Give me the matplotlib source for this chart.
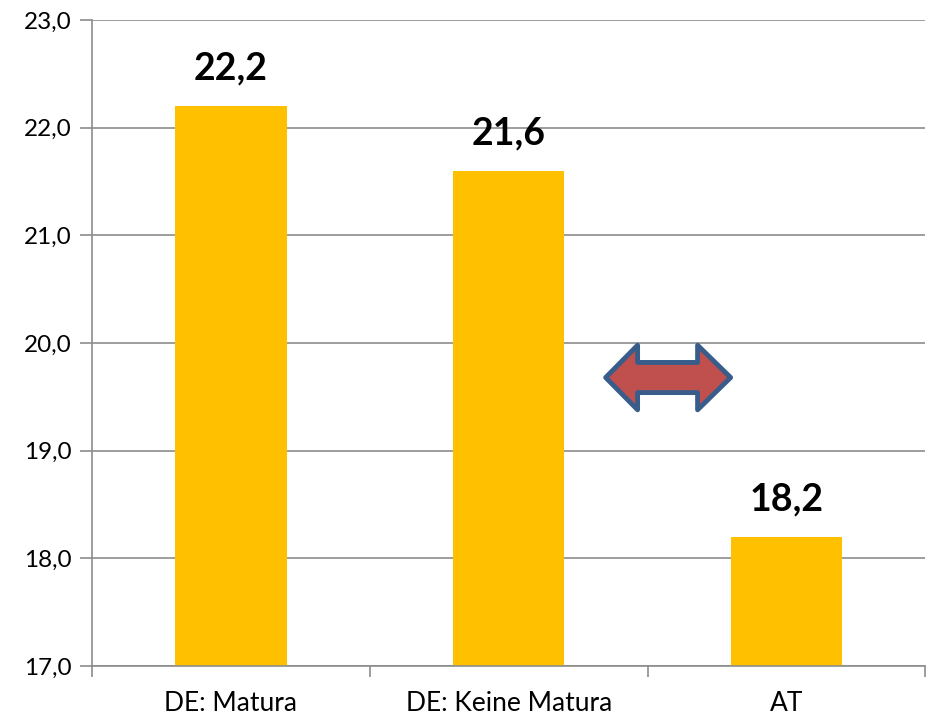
import matplotlib
matplotlib.use("Agg")
import matplotlib.pyplot as plt
from matplotlib.patches import Polygon
import numpy as np

categories = ["DE: Matura", "DE: Keine Matura", "AT"]
values = [22.2, 21.6, 18.2]
y_ticks = [17.0, 18.0, 19.0, 20.0, 21.0, 22.0, 23.0]

plt.rcParams['font.family'] = ['Lato', 'DejaVu Sans']

fig = plt.figure(figsize=(9.3, 7.2), dpi=100)
ax = fig.add_axes([0.099, 0.075, 0.896, 0.897])

x = np.arange(len(categories))
ax.bar(x, values, width=0.4, color='#FFC000', zorder=2, bottom=0)

for xi, v in zip(x, values):
    ax.text(xi, v + 0.19, f"{v:.1f}".replace('.', ','), ha='center', va='bottom',
            fontsize=27, fontweight='bold', color='black')

ax.set_ylim(17, 23)
ax.set_xlim(-0.5, len(categories) - 0.5)
ax.set_yticks(y_ticks)
ax.set_yticklabels([f"{t:.1f}".replace('.', ',') for t in y_ticks], fontsize=17.5)
ax.yaxis.grid(True, color='#8c8c8c', linewidth=1.2, zorder=0)
ax.set_axisbelow(True)

# category labels centred, ticks at boundaries
ax.set_xticks(x)
ax.set_xticklabels(categories, fontsize=19)
ax.tick_params(axis='x', which='major', length=0, pad=18)
ax.set_xticks(np.arange(-0.5, len(categories)), minor=True)
ax.tick_params(axis='x', which='minor', length=8, color='#8c8c8c', width=1.2)
ax.tick_params(axis='y', length=9, color='#8c8c8c', width=1.2, pad=6)

for s in ['top', 'right']:
    ax.spines[s].set_visible(False)
for s in ['left', 'bottom']:
    ax.spines[s].set_color('#8c8c8c')
    ax.spines[s].set_linewidth(1.2)

# double arrow between bar 2 and bar 3
xl, xr, hl, hr = 1.349, 1.799, 1.464, 1.680
yc, ht, hb, st, sb = 19.68, 19.98, 19.38, 19.82, 19.54
arrow = Polygon([(xl, yc), (hl, ht), (hl, st), (hr, st), (hr, ht), (xr, yc),
                 (hr, hb), (hr, sb), (hl, sb), (hl, hb)], closed=True,
                facecolor='#C0504D', edgecolor='#385D8A', linewidth=3.5,
                joinstyle='round', zorder=3)
ax.add_patch(arrow)

fig.savefig("out.png", dpi=100)
